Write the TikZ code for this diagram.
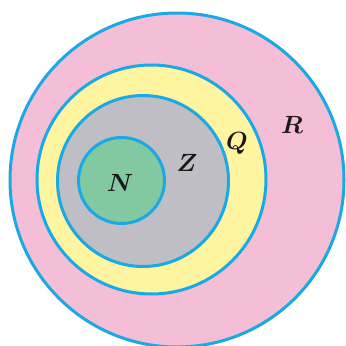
\documentclass[tikz,border=0pt]{standalone}
\usepackage{amsmath,bm}
\definecolor{ringblue}{RGB}{25,170,230}
\definecolor{rpink}{RGB}{245,190,215}
\definecolor{qyellow}{RGB}{255,245,160}
\definecolor{zgray}{RGB}{190,190,196}
\definecolor{ngreen}{RGB}{130,200,160}
\begin{document}
\begin{tikzpicture}[x=1pt,y=-1pt,
  setring/.style={draw=ringblue,line width=3pt},
  setlabel/.style={font=\fontsize{23}{23}\selectfont,text=black!90}]
\useasboundingbox (0,0) rectangle (346,346);
\fill[white] (0,0) rectangle (346,346);
\begin{scope}
\clip (0,0) rectangle (346,346);
\path[setring,fill=rpink] (177,180) circle[radius=167] coordinate (Rc);
\path[setring,fill=qyellow] (151.5,179.5) circle[radius=114.5] coordinate (Qc);
\path[setring,fill=zgray] (143,181) circle[radius=85.5] coordinate (Zc);
\path[setring,fill=ngreen] (121.5,180.5) circle[radius=43] coordinate (Nc);
\end{scope}
\node[setlabel] (N) at (120,183) {$\bm{N}$};
\node[setlabel] (Z) at (187,163) {$\bm{Z}$};
\node[setlabel] (Q) at (237,143) {$\bm{Q}$};
\node[setlabel] (R) at (292,125) {$\bm{R}$};
\end{tikzpicture}
\end{document}
